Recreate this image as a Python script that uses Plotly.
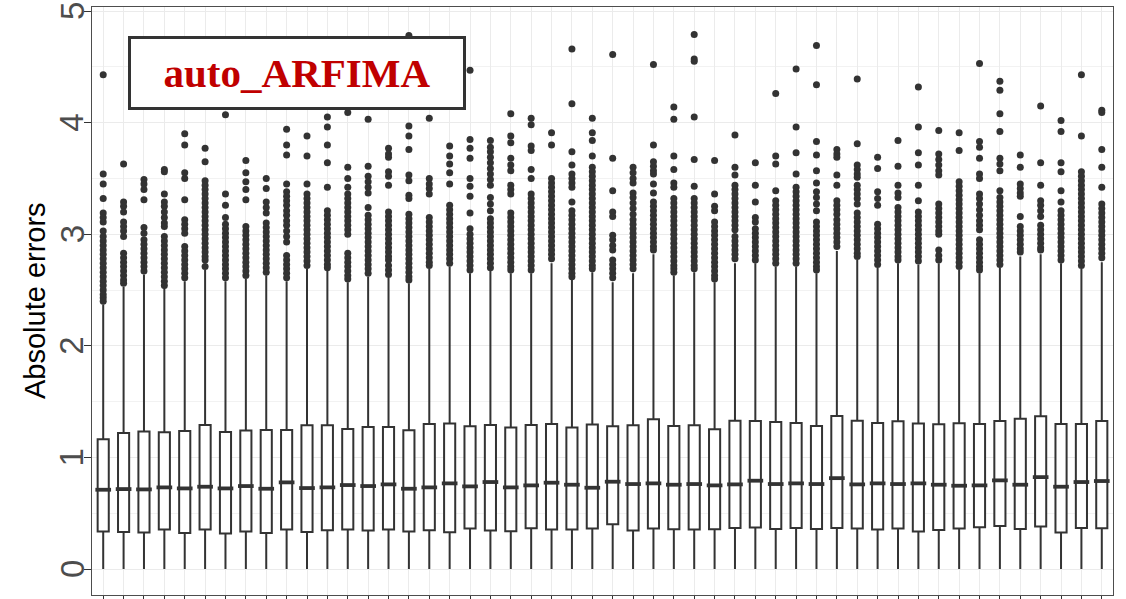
import plotly.graph_objects as go

categories = ["1", "2", "3", "4", "5", "6", "7", "8", "9", "10",
              "11", "12", "13", "14", "15", "16", "17", "18", "19", "20",
              "21", "22", "23", "24", "25", "26", "27", "28", "29", "30",
              "31", "32", "33", "34", "35", "36", "37", "38", "39", "40",
              "41", "42", "43", "44", "45", "46", "47", "48", "49", "50"]

q1 = [0.336, 0.333, 0.327, 0.354, 0.324, 0.354, 0.318, 0.336, 0.324, 0.354,
      0.333, 0.348, 0.354, 0.345, 0.354, 0.336, 0.348, 0.330, 0.363, 0.345,
      0.339, 0.366, 0.354, 0.354, 0.363, 0.402, 0.345, 0.363, 0.357, 0.354,
      0.357, 0.369, 0.372, 0.360, 0.369, 0.360, 0.369, 0.363, 0.354, 0.363,
      0.336, 0.351, 0.363, 0.375, 0.387, 0.360, 0.381, 0.327, 0.369, 0.366]

medians = [0.711, 0.717, 0.714, 0.732, 0.723, 0.738, 0.723, 0.744, 0.720, 0.777,
           0.726, 0.732, 0.753, 0.744, 0.759, 0.720, 0.732, 0.768, 0.741, 0.780,
           0.732, 0.750, 0.774, 0.756, 0.729, 0.783, 0.762, 0.768, 0.756, 0.762,
           0.750, 0.759, 0.792, 0.762, 0.768, 0.762, 0.815, 0.759, 0.768, 0.762,
           0.768, 0.756, 0.747, 0.750, 0.795, 0.756, 0.824, 0.738, 0.780, 0.789]

q3 = [1.164, 1.220, 1.232, 1.226, 1.238, 1.292, 1.229, 1.241, 1.247, 1.247,
      1.289, 1.289, 1.256, 1.274, 1.274, 1.244, 1.301, 1.304, 1.280, 1.292,
      1.268, 1.292, 1.301, 1.268, 1.295, 1.280, 1.289, 1.342, 1.283, 1.289,
      1.253, 1.330, 1.327, 1.318, 1.310, 1.283, 1.372, 1.330, 1.310, 1.324,
      1.304, 1.298, 1.307, 1.301, 1.327, 1.348, 1.369, 1.301, 1.301, 1.327]

lower_whisker = [0.0, 0.0, 0.0, 0.0, 0.0, 0.0, 0.0, 0.0, 0.0, 0.0,
                 0.0, 0.0, 0.0, 0.0, 0.0, 0.0, 0.0, 0.0, 0.0, 0.0,
                 0.0, 0.0, 0.0, 0.0, 0.0, 0.0, 0.0, 0.0, 0.0, 0.0,
                 0.0, 0.0, 0.0, 0.0, 0.0, 0.0, 0.0, 0.0, 0.0, 0.0,
                 0.0, 0.0, 0.0, 0.0, 0.0, 0.0, 0.0, 0.0, 0.0, 0.0]

upper_whisker = [2.37, 2.53, 2.64, 2.52, 2.58, 2.68, 2.58, 2.60, 2.63, 2.58,
                 2.69, 2.67, 2.57, 2.62, 2.61, 2.56, 2.69, 2.71, 2.65, 2.67,
                 2.65, 2.65, 2.74, 2.59, 2.66, 2.57, 2.65, 2.82, 2.63, 2.66,
                 2.57, 2.74, 2.74, 2.71, 2.71, 2.65, 2.85, 2.77, 2.70, 2.74,
                 2.73, 2.74, 2.68, 2.65, 2.70, 2.80, 2.82, 2.74, 2.69, 2.75]

outliers = [
    [4.43, 3.54, 3.45, 3.32, 3.19, 3.15, 3.11, 3.03, 2.98, 2.94, 2.90, 2.86, 2.82, 2.78, 2.74, 2.70, 2.66, 2.62, 2.58, 2.54, 2.50, 2.46, 2.43, 2.40],
    [3.63, 3.29, 3.25, 3.20, 3.11, 3.07, 3.03, 2.98, 2.83, 2.79, 2.75, 2.71, 2.67, 2.63, 2.59, 2.56],
    [3.49, 3.45, 3.40, 3.31, 3.06, 3.01, 2.95, 2.91, 2.87, 2.83, 2.79, 2.75, 2.71, 2.67],
    [3.58, 3.56, 3.36, 3.29, 3.25, 3.20, 3.15, 3.10, 3.07, 2.98, 2.94, 2.90, 2.86, 2.82, 2.78, 2.74, 2.70, 2.66, 2.62, 2.58, 2.54],
    [3.90, 3.80, 3.55, 3.50, 3.31, 3.13, 3.09, 3.05, 3.01, 2.89, 2.85, 2.81, 2.77, 2.73, 2.69, 2.65, 2.61],
    [3.77, 3.65, 3.48, 3.44, 3.40, 3.36, 3.32, 3.28, 3.24, 3.20, 3.16, 3.12, 3.08, 3.04, 3.00, 2.96, 2.92, 2.88, 2.84, 2.80, 2.77, 2.71],
    [4.07, 3.36, 3.26, 3.15, 3.09, 3.05, 3.01, 2.97, 2.93, 2.89, 2.85, 2.81, 2.77, 2.73, 2.69, 2.65, 2.61],
    [3.66, 3.55, 3.47, 3.40, 3.31, 3.07, 3.03, 2.99, 2.95, 2.91, 2.87, 2.83, 2.79, 2.75, 2.71, 2.67, 2.63],
    [3.50, 3.41, 3.29, 3.24, 3.19, 3.10, 3.06, 3.02, 2.98, 2.94, 2.90, 2.86, 2.82, 2.78, 2.74, 2.70, 2.66],
    [3.94, 3.80, 3.71, 3.45, 3.38, 3.34, 3.30, 3.26, 3.21, 3.17, 3.12, 3.08, 3.03, 2.98, 2.93, 2.81, 2.77, 2.73, 2.69, 2.65, 2.61],
    [3.88, 3.70, 3.45, 3.36, 3.32, 3.28, 3.24, 3.20, 3.16, 3.12, 3.08, 3.04, 3.00, 2.96, 2.92, 2.88, 2.84, 2.80, 2.76, 2.72],
    [4.05, 3.96, 3.80, 3.64, 3.42, 3.21, 3.17, 3.13, 3.09, 3.05, 3.01, 2.97, 2.93, 2.89, 2.85, 2.81, 2.77, 2.73, 2.70],
    [4.09, 3.60, 3.50, 3.42, 3.36, 3.32, 3.28, 3.24, 3.20, 3.16, 3.12, 3.08, 3.04, 3.00, 2.83, 2.79, 2.75, 2.71, 2.67, 2.63, 2.60],
    [4.03, 3.61, 3.52, 3.47, 3.42, 3.37, 3.24, 3.17, 3.13, 3.09, 3.05, 3.01, 2.97, 2.93, 2.89, 2.85, 2.81, 2.77, 2.73, 2.69, 2.65],
    [3.77, 3.72, 3.69, 3.56, 3.52, 3.44, 3.20, 3.16, 3.12, 3.08, 3.04, 3.00, 2.96, 2.92, 2.88, 2.84, 2.80, 2.77, 2.72, 2.68, 2.64],
    [4.78, 3.97, 3.88, 3.76, 3.53, 3.48, 3.35, 3.32, 3.18, 3.14, 3.10, 3.06, 3.02, 2.98, 2.94, 2.90, 2.86, 2.82, 2.78, 2.74, 2.70, 2.66, 2.62, 2.59],
    [4.04, 3.50, 3.45, 3.41, 3.36, 3.15, 3.11, 3.07, 3.03, 2.99, 2.95, 2.91, 2.87, 2.83, 2.79, 2.75, 2.72],
    [3.79, 3.70, 3.63, 3.55, 3.45, 3.26, 3.22, 3.18, 3.14, 3.10, 3.06, 3.02, 2.98, 2.94, 2.90, 2.86, 2.82, 2.78, 2.74],
    [4.47, 3.85, 3.77, 3.68, 3.50, 3.43, 3.34, 3.19, 3.05, 3.00, 2.96, 2.92, 2.88, 2.84, 2.80, 2.76, 2.72, 2.68],
    [3.84, 3.78, 3.74, 3.69, 3.64, 3.59, 3.54, 3.49, 3.44, 3.33, 3.27, 3.21, 3.14, 3.10, 3.06, 3.02, 2.98, 2.94, 2.90, 2.86, 2.82, 2.78, 2.74, 2.70],
    [4.08, 3.88, 3.82, 3.68, 3.62, 3.57, 3.44, 3.40, 3.36, 3.19, 3.15, 3.11, 3.07, 3.03, 2.99, 2.95, 2.91, 2.87, 2.83, 2.79, 2.75, 2.71, 2.68],
    [4.04, 3.98, 3.79, 3.75, 3.58, 3.50, 3.36, 3.32, 3.28, 3.24, 3.20, 3.16, 3.12, 3.08, 3.04, 3.00, 2.96, 2.92, 2.88, 2.84, 2.80, 2.76, 2.72, 2.68],
    [3.91, 3.80, 3.50, 3.46, 3.42, 3.38, 3.34, 3.30, 3.26, 3.22, 3.18, 3.14, 3.10, 3.06, 3.02, 2.98, 2.94, 2.90, 2.86, 2.82, 2.78],
    [4.66, 4.17, 3.74, 3.62, 3.54, 3.50, 3.46, 3.42, 3.29, 3.21, 3.17, 3.13, 3.09, 3.05, 3.01, 2.97, 2.93, 2.89, 2.85, 2.81, 2.77, 2.73, 2.69, 2.65, 2.62],
    [4.04, 3.91, 3.84, 3.70, 3.60, 3.56, 3.52, 3.48, 3.44, 3.40, 3.36, 3.32, 3.28, 3.24, 3.20, 3.16, 3.12, 3.08, 3.04, 3.00, 2.96, 2.92, 2.88, 2.84, 2.80, 2.76, 2.72, 2.69],
    [4.61, 3.68, 3.39, 3.20, 3.16, 2.99, 2.95, 2.90, 2.86, 2.77, 2.73, 2.69, 2.65, 2.61],
    [3.60, 3.55, 3.50, 3.46, 3.37, 3.33, 3.28, 3.23, 3.18, 3.13, 3.09, 3.05, 3.01, 2.97, 2.93, 2.89, 2.85, 2.81, 2.77, 2.73, 2.69],
    [4.52, 3.80, 3.65, 3.61, 3.57, 3.54, 3.45, 3.37, 3.29, 3.25, 3.21, 3.17, 3.13, 3.09, 3.05, 3.01, 2.97, 2.93, 2.89, 2.86],
    [4.14, 4.03, 3.70, 3.58, 3.46, 3.42, 3.32, 3.28, 3.24, 3.20, 3.16, 3.12, 3.08, 3.04, 3.00, 2.96, 2.92, 2.88, 2.84, 2.80, 2.76, 2.72, 2.69, 2.66],
    [4.79, 4.57, 4.55, 4.05, 3.67, 3.43, 3.32, 3.28, 3.24, 3.20, 3.16, 3.12, 3.08, 3.04, 3.00, 2.96, 2.92, 2.88, 2.84, 2.80, 2.76, 2.72, 2.69],
    [3.66, 3.36, 3.25, 3.21, 3.11, 3.07, 3.03, 2.99, 2.95, 2.91, 2.87, 2.83, 2.79, 2.75, 2.71, 2.67, 2.63, 2.60],
    [3.89, 3.60, 3.53, 3.44, 3.40, 3.36, 3.32, 3.28, 3.24, 3.20, 3.16, 3.12, 3.08, 3.04, 2.98, 2.94, 2.90, 2.86, 2.82, 2.78],
    [3.64, 3.44, 3.29, 3.15, 3.11, 3.05, 3.01, 2.97, 2.93, 2.89, 2.85, 2.81, 2.77],
    [4.26, 3.70, 3.63, 3.39, 3.30, 3.26, 3.22, 3.18, 3.14, 3.10, 3.06, 3.02, 2.98, 2.94, 2.90, 2.86, 2.82, 2.78, 2.74],
    [4.48, 3.96, 3.73, 3.54, 3.42, 3.38, 3.34, 3.30, 3.26, 3.22, 3.18, 3.14, 3.10, 3.06, 3.02, 2.98, 2.94, 2.90, 2.86, 2.82, 2.78, 2.74],
    [4.69, 4.34, 3.83, 3.71, 3.57, 3.46, 3.38, 3.33, 3.27, 3.21, 3.11, 3.07, 3.03, 2.99, 2.95, 2.91, 2.87, 2.83, 2.79, 2.75, 2.71, 2.68],
    [3.76, 3.72, 3.69, 3.53, 3.44, 3.30, 3.26, 3.22, 3.18, 3.13, 3.09, 3.05, 3.01, 2.97, 2.93, 2.89],
    [4.39, 3.81, 3.62, 3.58, 3.54, 3.51, 3.44, 3.40, 3.36, 3.32, 3.27, 3.19, 3.15, 3.11, 3.07, 3.03, 2.99, 2.95, 2.91, 2.87, 2.83, 2.80],
    [3.69, 3.59, 3.38, 3.32, 3.26, 3.09, 3.05, 3.01, 2.97, 2.93, 2.89, 2.85, 2.81, 2.77, 2.73],
    [3.84, 3.61, 3.44, 3.37, 3.33, 3.24, 3.20, 3.16, 3.12, 3.08, 3.04, 3.00, 2.96, 2.92, 2.88, 2.84, 2.80, 2.77],
    [4.32, 3.96, 3.73, 3.62, 3.44, 3.30, 3.20, 3.16, 3.12, 3.08, 3.04, 3.00, 2.96, 2.92, 2.88, 2.84, 2.80, 2.76],
    [3.93, 3.72, 3.67, 3.62, 3.57, 3.53, 3.27, 3.23, 3.19, 3.15, 3.11, 3.07, 3.03, 3.00, 2.86, 2.81, 2.77],
    [3.91, 3.75, 3.47, 3.43, 3.39, 3.35, 3.31, 3.27, 3.23, 3.19, 3.15, 3.11, 3.07, 3.03, 2.99, 2.95, 2.91, 2.87, 2.83, 2.79, 2.75, 2.71],
    [4.53, 3.83, 3.78, 3.68, 3.54, 3.50, 3.36, 3.32, 3.27, 3.22, 3.17, 3.12, 3.08, 3.04, 2.95, 2.91, 2.87, 2.83, 2.79, 2.75, 2.71, 2.68],
    [4.37, 4.29, 4.08, 3.92, 3.68, 3.63, 3.57, 3.39, 3.33, 3.29, 3.25, 3.21, 3.17, 3.13, 3.09, 3.05, 3.01, 2.97, 2.93, 2.89, 2.85, 2.81, 2.77, 2.73],
    [3.71, 3.60, 3.45, 3.41, 3.37, 3.34, 3.16, 3.07, 3.03, 2.99, 2.95, 2.91, 2.87, 2.84],
    [4.15, 3.64, 3.44, 3.30, 3.26, 3.21, 3.16, 3.08, 3.04, 3.00, 2.96, 2.92, 2.88, 2.86],
    [4.02, 3.92, 3.64, 3.56, 3.39, 3.29, 3.21, 3.17, 3.13, 3.09, 3.05, 3.01, 2.97, 2.93, 2.89, 2.85, 2.81, 2.77],
    [4.43, 3.88, 3.56, 3.52, 3.48, 3.44, 3.40, 3.36, 3.32, 3.28, 3.24, 3.20, 3.16, 3.12, 3.08, 3.04, 3.00, 2.96, 2.92, 2.88, 2.84, 2.80, 2.76, 2.72],
    [4.11, 4.09, 3.76, 3.60, 3.42, 3.27, 3.23, 3.19, 3.15, 3.11, 3.07, 3.03, 2.99, 2.95, 2.91, 2.87, 2.83, 2.79],
]

y_tick_values = [0, 1, 2, 3, 4, 5]
y_tick_labels = ["0", "1", "2", "3", "4", "5"]
y_title = "Absolute errors"
label_text = "auto_ARFIMA"

DARK = "#333333"

fig = go.Figure()

fig.add_trace(go.Box(
    x=categories,
    q1=q1, median=medians, q3=q3,
    lowerfence=lower_whisker, upperfence=upper_whisker,
    boxpoints=False,
    fillcolor="white",
    line=dict(color=DARK, width=2),
    whiskerwidth=0,
    showlegend=False,
    hoverinfo="skip",
))

# thick median bars
fig.add_trace(go.Scatter(
    x=categories, y=medians, mode="markers",
    marker=dict(symbol="line-ew", size=11.2, color=DARK,
                line=dict(color=DARK, width=3.8)),
    showlegend=False, hoverinfo="skip",
))

ox, oy = [], []
for cat, vals in zip(categories, outliers):
    for v in vals:
        ox.append(cat)
        oy.append(v)

fig.add_trace(go.Scatter(
    x=ox, y=oy, mode="markers",
    marker=dict(size=7, color=DARK, line=dict(width=0)),
    showlegend=False, hoverinfo="skip",
))

# label box
fig.add_annotation(
    x=0.2003, y=0.8878, xref="paper", yref="paper",
    xanchor="center", yanchor="middle",
    text="<b>" + label_text + "</b>",
    showarrow=False,
    font=dict(family="Liberation Serif", size=41, color="#C00000"),
    bgcolor="white", bordercolor=DARK, borderwidth=3, borderpad=0,
    width=332, height=68,
)

# rotated y tick labels
for v, lab in zip(y_tick_values, y_tick_labels):
    fig.add_annotation(
        x=-0.0196, xref="paper", y=v, yref="y",
        text=lab, showarrow=False, textangle=-90,
        xanchor="center", yanchor="middle",
        font=dict(size=33, color="#4d4d4d", family="Liberation Sans"),
    )

# y axis title
fig.add_annotation(
    x=-0.0558, xref="paper", y=0.5, yref="paper",
    text=y_title, showarrow=False, textangle=-90,
    xanchor="center", yanchor="middle",
    font=dict(size=29, color="black", family="Liberation Sans"),
)

fig.update_layout(
    width=1126, height=599,
    margin=dict(l=92, r=13, t=7, b=4, autoexpand=False),
    paper_bgcolor="white", plot_bgcolor="white",
    boxgap=0.22,
    font=dict(family="Liberation Sans"),
)

fig.update_xaxes(
    type="category", automargin=False,
    showgrid=True, gridcolor="#ebebeb", gridwidth=1.2,
    showticklabels=False,
    ticks="outside", ticklen=6, tickcolor=DARK, tickwidth=1.2,
    showline=True, linecolor="#4d4d4d", linewidth=1, mirror=True,
    range=[-0.55, 49.55],
    zeroline=False,
)

fig.update_yaxes(
    automargin=False,
    range=[-0.232, 5.036],
    tickvals=y_tick_values,
    showticklabels=False,
    ticks="outside", ticklen=7, tickcolor=DARK, tickwidth=1.2,
    showgrid=True, gridcolor="#ebebeb", gridwidth=1.2,
    minor=dict(dtick=0.5, showgrid=True, gridcolor="#f2f2f2", gridwidth=1),
    showline=True, linecolor="#4d4d4d", linewidth=1, mirror=True,
    zeroline=False,
)

# remove the browser's default page margin so the figure fills the window
fig.write_html("out.html", config={"displayModeBar": False},
               post_script="document.body.style.margin='0';")
